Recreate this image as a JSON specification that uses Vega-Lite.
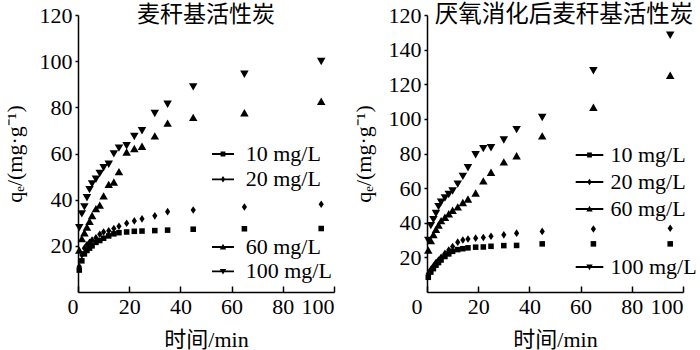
{
"$schema":"https://vega.github.io/schema/vega-lite/v6.json",
"autosize":{"type":"none"},
"padding":{"left":78,"top":15,"right":622,"bottom":335},
"background":"white",
"datasets":{"d":[
{"panel":"L","series":"10 mg/L","time":0.5,"qe":9.5},{"panel":"L","series":"10 mg/L","time":1.5,"qe":13.5},{"panel":"L","series":"10 mg/L","time":2.5,"qe":16.5},{"panel":"L","series":"10 mg/L","time":3.5,"qe":18},{"panel":"L","series":"10 mg/L","time":4.5,"qe":19},{"panel":"L","series":"10 mg/L","time":5.5,"qe":20},{"panel":"L","series":"10 mg/L","time":7,"qe":21.5},{"panel":"L","series":"10 mg/L","time":8.5,"qe":22.3},{"panel":"L","series":"10 mg/L","time":10,"qe":23.3},{"panel":"L","series":"10 mg/L","time":12,"qe":24.3},{"panel":"L","series":"10 mg/L","time":14,"qe":25.2},{"panel":"L","series":"10 mg/L","time":16,"qe":25.7},{"panel":"L","series":"10 mg/L","time":19,"qe":26},{"panel":"L","series":"10 mg/L","time":22,"qe":26.3},{"panel":"L","series":"10 mg/L","time":25,"qe":26.4},{"panel":"L","series":"10 mg/L","time":30,"qe":26.6},{"panel":"L","series":"10 mg/L","time":35,"qe":26.8},{"panel":"L","series":"10 mg/L","time":45,"qe":27.2},{"panel":"L","series":"10 mg/L","time":65,"qe":27.4},{"panel":"L","series":"10 mg/L","time":95,"qe":27.5},
{"panel":"L","series":"20 mg/L","time":0.5,"qe":11},{"panel":"L","series":"20 mg/L","time":1.5,"qe":16},{"panel":"L","series":"20 mg/L","time":2.5,"qe":19},{"panel":"L","series":"20 mg/L","time":3.5,"qe":20.5},{"panel":"L","series":"20 mg/L","time":4.5,"qe":21.5},{"panel":"L","series":"20 mg/L","time":5.5,"qe":22.5},{"panel":"L","series":"20 mg/L","time":7,"qe":23.5},{"panel":"L","series":"20 mg/L","time":8.5,"qe":25},{"panel":"L","series":"20 mg/L","time":10,"qe":26},{"panel":"L","series":"20 mg/L","time":12,"qe":26.5},{"panel":"L","series":"20 mg/L","time":14,"qe":27.5},{"panel":"L","series":"20 mg/L","time":16,"qe":28.5},{"panel":"L","series":"20 mg/L","time":19,"qe":29.8},{"panel":"L","series":"20 mg/L","time":22,"qe":30.8},{"panel":"L","series":"20 mg/L","time":25,"qe":31.7},{"panel":"L","series":"20 mg/L","time":30,"qe":33},{"panel":"L","series":"20 mg/L","time":35,"qe":34.8},{"panel":"L","series":"20 mg/L","time":45,"qe":35.5},{"panel":"L","series":"20 mg/L","time":65,"qe":36.8},{"panel":"L","series":"20 mg/L","time":95,"qe":38},
{"panel":"L","series":"60 mg/L","time":0.5,"qe":18},{"panel":"L","series":"60 mg/L","time":1.5,"qe":23},{"panel":"L","series":"60 mg/L","time":2.5,"qe":25.5},{"panel":"L","series":"60 mg/L","time":3.5,"qe":28},{"panel":"L","series":"60 mg/L","time":4.5,"qe":30.5},{"panel":"L","series":"60 mg/L","time":5.5,"qe":33},{"panel":"L","series":"60 mg/L","time":7,"qe":36},{"panel":"L","series":"60 mg/L","time":8.5,"qe":37.5},{"panel":"L","series":"60 mg/L","time":10,"qe":41.5},{"panel":"L","series":"60 mg/L","time":12,"qe":46.5},{"panel":"L","series":"60 mg/L","time":14,"qe":47.5},{"panel":"L","series":"60 mg/L","time":16,"qe":52},{"panel":"L","series":"60 mg/L","time":19,"qe":60.5},{"panel":"L","series":"60 mg/L","time":22,"qe":62},{"panel":"L","series":"60 mg/L","time":25,"qe":63},{"panel":"L","series":"60 mg/L","time":30,"qe":67.5},{"panel":"L","series":"60 mg/L","time":35,"qe":73},{"panel":"L","series":"60 mg/L","time":45,"qe":75.5},{"panel":"L","series":"60 mg/L","time":65,"qe":77.5},{"panel":"L","series":"60 mg/L","time":95,"qe":82.5},
{"panel":"L","series":"100 mg/L","time":0.5,"qe":28},{"panel":"L","series":"100 mg/L","time":1.5,"qe":34},{"panel":"L","series":"100 mg/L","time":2.5,"qe":37},{"panel":"L","series":"100 mg/L","time":3.5,"qe":41},{"panel":"L","series":"100 mg/L","time":4.5,"qe":44.5},{"panel":"L","series":"100 mg/L","time":5.5,"qe":47},{"panel":"L","series":"100 mg/L","time":7,"qe":49},{"panel":"L","series":"100 mg/L","time":8.5,"qe":51.5},{"panel":"L","series":"100 mg/L","time":10,"qe":54},{"panel":"L","series":"100 mg/L","time":12,"qe":55.5},{"panel":"L","series":"100 mg/L","time":14,"qe":60},{"panel":"L","series":"100 mg/L","time":16,"qe":62.5},{"panel":"L","series":"100 mg/L","time":19,"qe":63.5},{"panel":"L","series":"100 mg/L","time":22,"qe":67.5},{"panel":"L","series":"100 mg/L","time":25,"qe":70},{"panel":"L","series":"100 mg/L","time":30,"qe":77.5},{"panel":"L","series":"100 mg/L","time":35,"qe":81.5},{"panel":"L","series":"100 mg/L","time":45,"qe":89},{"panel":"L","series":"100 mg/L","time":65,"qe":94.5},{"panel":"L","series":"100 mg/L","time":95,"qe":100},
{"panel":"R","series":"10 mg/L","time":0.5,"qe":8.5},{"panel":"R","series":"10 mg/L","time":1.5,"qe":11.5},{"panel":"R","series":"10 mg/L","time":2.5,"qe":13.5},{"panel":"R","series":"10 mg/L","time":3.5,"qe":15.5},{"panel":"R","series":"10 mg/L","time":4.5,"qe":17},{"panel":"R","series":"10 mg/L","time":5.5,"qe":18.5},{"panel":"R","series":"10 mg/L","time":7,"qe":20.5},{"panel":"R","series":"10 mg/L","time":8.5,"qe":22},{"panel":"R","series":"10 mg/L","time":10,"qe":23.5},{"panel":"R","series":"10 mg/L","time":12,"qe":24.5},{"panel":"R","series":"10 mg/L","time":14,"qe":25},{"panel":"R","series":"10 mg/L","time":16,"qe":25.5},{"panel":"R","series":"10 mg/L","time":19,"qe":25.9},{"panel":"R","series":"10 mg/L","time":22,"qe":26},{"panel":"R","series":"10 mg/L","time":25,"qe":26.4},{"panel":"R","series":"10 mg/L","time":30,"qe":26.8},{"panel":"R","series":"10 mg/L","time":35,"qe":26.9},{"panel":"R","series":"10 mg/L","time":45,"qe":27.8},{"panel":"R","series":"10 mg/L","time":65,"qe":27.8},{"panel":"R","series":"10 mg/L","time":95,"qe":27.8},
{"panel":"R","series":"20 mg/L","time":0.5,"qe":10.5},{"panel":"R","series":"20 mg/L","time":1.5,"qe":13},{"panel":"R","series":"20 mg/L","time":2.5,"qe":15},{"panel":"R","series":"20 mg/L","time":3.5,"qe":17},{"panel":"R","series":"20 mg/L","time":4.5,"qe":18.5},{"panel":"R","series":"20 mg/L","time":5.5,"qe":20},{"panel":"R","series":"20 mg/L","time":7,"qe":22.3},{"panel":"R","series":"20 mg/L","time":8.5,"qe":24.3},{"panel":"R","series":"20 mg/L","time":10,"qe":26.3},{"panel":"R","series":"20 mg/L","time":12,"qe":28.8},{"panel":"R","series":"20 mg/L","time":14,"qe":30},{"panel":"R","series":"20 mg/L","time":16,"qe":30.6},{"panel":"R","series":"20 mg/L","time":19,"qe":31.1},{"panel":"R","series":"20 mg/L","time":22,"qe":31.5},{"panel":"R","series":"20 mg/L","time":25,"qe":32.2},{"panel":"R","series":"20 mg/L","time":30,"qe":33},{"panel":"R","series":"20 mg/L","time":35,"qe":34},{"panel":"R","series":"20 mg/L","time":45,"qe":35},{"panel":"R","series":"20 mg/L","time":65,"qe":36.4},{"panel":"R","series":"20 mg/L","time":95,"qe":36.8},
{"panel":"R","series":"60 mg/L","time":0.5,"qe":24},{"panel":"R","series":"60 mg/L","time":1.5,"qe":29.5},{"panel":"R","series":"60 mg/L","time":2.5,"qe":33},{"panel":"R","series":"60 mg/L","time":3.5,"qe":36},{"panel":"R","series":"60 mg/L","time":4.5,"qe":38.5},{"panel":"R","series":"60 mg/L","time":5.5,"qe":41},{"panel":"R","series":"60 mg/L","time":7,"qe":43},{"panel":"R","series":"60 mg/L","time":8.5,"qe":45},{"panel":"R","series":"60 mg/L","time":10,"qe":47},{"panel":"R","series":"60 mg/L","time":12,"qe":49},{"panel":"R","series":"60 mg/L","time":14,"qe":51.5},{"panel":"R","series":"60 mg/L","time":16,"qe":53.5},{"panel":"R","series":"60 mg/L","time":19,"qe":57},{"panel":"R","series":"60 mg/L","time":22,"qe":64},{"panel":"R","series":"60 mg/L","time":25,"qe":69},{"panel":"R","series":"60 mg/L","time":30,"qe":75},{"panel":"R","series":"60 mg/L","time":35,"qe":78.5},{"panel":"R","series":"60 mg/L","time":45,"qe":90},{"panel":"R","series":"60 mg/L","time":65,"qe":106.5},{"panel":"R","series":"60 mg/L","time":95,"qe":125},
{"panel":"R","series":"100 mg/L","time":0.5,"qe":30},{"panel":"R","series":"100 mg/L","time":1.5,"qe":38.5},{"panel":"R","series":"100 mg/L","time":2.5,"qe":42},{"panel":"R","series":"100 mg/L","time":3.5,"qe":45.5},{"panel":"R","series":"100 mg/L","time":4.5,"qe":49.5},{"panel":"R","series":"100 mg/L","time":5.5,"qe":52},{"panel":"R","series":"100 mg/L","time":7,"qe":54.5},{"panel":"R","series":"100 mg/L","time":8.5,"qe":56.5},{"panel":"R","series":"100 mg/L","time":10,"qe":58.5},{"panel":"R","series":"100 mg/L","time":12,"qe":62.5},{"panel":"R","series":"100 mg/L","time":14,"qe":67},{"panel":"R","series":"100 mg/L","time":16,"qe":72},{"panel":"R","series":"100 mg/L","time":19,"qe":79.5},{"panel":"R","series":"100 mg/L","time":22,"qe":83},{"panel":"R","series":"100 mg/L","time":25,"qe":83.5},{"panel":"R","series":"100 mg/L","time":30,"qe":88},{"panel":"R","series":"100 mg/L","time":35,"qe":94},{"panel":"R","series":"100 mg/L","time":45,"qe":101},{"panel":"R","series":"100 mg/L","time":65,"qe":128},{"panel":"R","series":"100 mg/L","time":95,"qe":148.5}
]},
"data":{"name":"d"},
"spacing":93,
"bounds":"flush",
"hconcat":[
{
"width":256,"height":277,
"title":{"text":"麦秆基活性炭","frame":"group","anchor":"middle","offset":-46,"baseline":"bottom","fontSize":23},
"transform":[{"filter":"datum.panel==='L'"}],
"encoding":{
 "x":{"field":"time","type":"quantitative","scale":{"domain":[0,100],"nice":false},"axis":{"values":[0,20,40,60,80,100],"tickSize":-6,"labelPadding":10,"labelOffset":{"condition":{"test":"datum.value===0","value":-11},"value":0},"title":"时间/min","titlePadding":12}},
 "y":{"field":"qe","type":"quantitative","scale":{"domain":[0,120],"nice":false},"axis":{"values":[20,40,60,80,100,120],"tickSize":3,"labelPadding":3,"title":"qₑ/(mg·g⁻¹)","titlePadding":13}}
},
"layer":[
 {"mark":{"type":"point","filled":true,"color":"black","opacity":1,"size":80,"strokeWidth":0},
  "encoding":{"shape":{"field":"series","type":"nominal","scale":{"domain":["10 mg/L","20 mg/L","60 mg/L","100 mg/L"],"range":["M-0.62,-0.62H0.62V0.62H-0.62Z","M0,-0.85L0.58,0L0,0.85L-0.58,0Z","M0,-0.9L0.95,0.75L-0.95,0.75Z","M0,0.9L-0.95,-0.75L0.95,-0.75Z"]},"legend":null}}},
 {"transform":[{"filter":"datum.series==='10 mg/L'||datum.series==='20 mg/L'"}],
  "mark":{"type":"point","filled":true,"color":"black","opacity":0,"size":64},
  "encoding":{"shape":{"field":"series","type":"nominal","scale":{"domain":["10 mg/L","20 mg/L"],"range":["M-2.75,-0.22H2.75V0.22H-2.75Z M-0.6,-0.6H0.6V0.6H-0.6Z","M-2.75,-0.22H2.75V0.22H-2.75Z M0,-0.8L0.55,0L0,0.8L-0.55,0Z"]},
   "legend":{"orient":"none","legendX":134,"legendY":128,"rowPadding":3.3,"labelOffset":11.7,"labelFont":"Liberation Serif","labelFontSize":22}}}},
 {"transform":[{"filter":"datum.series==='60 mg/L'||datum.series==='100 mg/L'"}],
  "mark":{"type":"point","filled":true,"color":"black","opacity":0,"size":64},
  "encoding":{"shape":{"field":"series","type":"nominal","scale":{"domain":["60 mg/L","100 mg/L"],"range":["M-2.75,-0.22H2.75V0.22H-2.75Z M0,-0.8L0.8,0.6L-0.8,0.6Z","M-2.75,-0.22H2.75V0.22H-2.75Z M0,0.8L-0.8,-0.6L0.8,-0.6Z"]},
   "legend":{"orient":"none","legendX":134,"legendY":221,"rowPadding":2.4,"labelOffset":11.7,"labelFont":"Liberation Serif","labelFontSize":22}}}}
],
"resolve":{"scale":{"shape":"independent"}}
},
{
"width":256,"height":277,
"title":{"text":"厌氧消化后麦秆基活性炭","frame":"group","anchor":"middle","offset":-46,"baseline":"bottom","dx":9,"fontSize":23.5},
"transform":[{"filter":"datum.panel==='R'"}],
"encoding":{
 "x":{"field":"time","type":"quantitative","scale":{"domain":[0,100],"nice":false},"axis":{"values":[0,20,40,60,80,100],"tickSize":-6,"labelPadding":10,"labelOffset":{"condition":{"test":"datum.value===0","value":-16},"value":0},"title":"时间/min","titlePadding":12}},
 "y":{"field":"qe","type":"quantitative","scale":{"domain":[0,160],"nice":false},"axis":{"values":[20,40,60,80,100,120,140,160],"labelExpr":"datum.value===160 ? '120' : datum.label","tickSize":3,"labelPadding":3,"title":"qₑ/(mg·g⁻¹)","titlePadding":13}}
},
"layer":[
 {"mark":{"type":"point","filled":true,"color":"black","opacity":1,"size":80,"strokeWidth":0},
  "encoding":{"shape":{"field":"series","type":"nominal","scale":{"domain":["10 mg/L","20 mg/L","60 mg/L","100 mg/L"],"range":["M-0.62,-0.62H0.62V0.62H-0.62Z","M0,-0.85L0.58,0L0,0.85L-0.58,0Z","M0,-0.9L0.95,0.75L-0.95,0.75Z","M0,0.9L-0.95,-0.75L0.95,-0.75Z"]},"legend":null}}},
 {"transform":[{"filter":"datum.series!=='100 mg/L'"}],
  "mark":{"type":"point","filled":true,"color":"black","opacity":0,"size":64},
  "encoding":{"shape":{"field":"series","type":"nominal","scale":{"domain":["10 mg/L","20 mg/L","60 mg/L"],"range":["M-3.45,-0.22H3.45V0.22H-3.45Z M-0.6,-0.6H0.6V0.6H-0.6Z","M-3.45,-0.22H3.45V0.22H-3.45Z M0,-0.8L0.55,0L0,0.8L-0.55,0Z","M-3.45,-0.22H3.45V0.22H-3.45Z M0,-0.8L0.8,0.6L-0.8,0.6Z"]},
   "legend":{"orient":"none","legendX":151.5,"legendY":129,"rowPadding":5,"labelOffset":10,"labelFont":"Liberation Serif","labelFontSize":22}}}},
 {"transform":[{"filter":"datum.series==='100 mg/L'"}],
  "mark":{"type":"point","filled":true,"color":"black","opacity":0,"size":64},
  "encoding":{"shape":{"field":"series","type":"nominal","scale":{"domain":["100 mg/L"],"range":["M-3.45,-0.22H3.45V0.22H-3.45Z M0,0.8L-0.8,-0.6L0.8,-0.6Z"]},
   "legend":{"orient":"none","legendX":151.5,"legendY":241,"rowPadding":5,"labelOffset":10,"labelFont":"Liberation Serif","labelFontSize":22}}}}
],
"resolve":{"scale":{"shape":"independent"}}
}
],
"config":{
 "view":{"stroke":null},
 "font":"Liberation Serif",
 "axis":{"grid":false,"domainColor":"black","domainWidth":1.5,"tickColor":"black","tickWidth":1.5,"labelColor":"black","labelFont":"Liberation Serif","labelFontSize":22,"titleFont":"Liberation Serif, Noto Sans CJK SC","titleFontSize":22,"titleFontWeight":"normal","titleColor":"black"},
 "legend":{"title":null,"padding":0,"symbolSize":64,"symbolOpacity":1,"symbolFillColor":"black","symbolStrokeWidth":0,"labelFont":"Liberation Serif","labelFontSize":22,"labelColor":"black","labelLimit":300},
 "title":{"font":"Liberation Serif, Noto Sans CJK SC","fontSize":22,"fontWeight":"normal","color":"black"}
}
}
